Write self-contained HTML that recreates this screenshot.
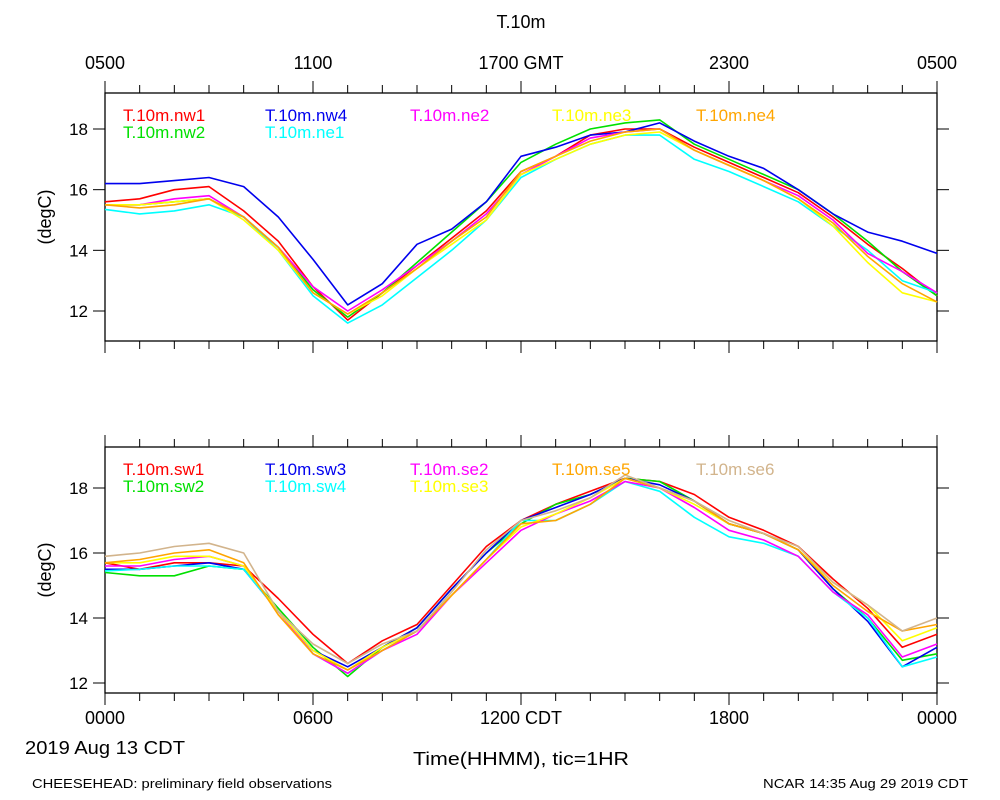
<!DOCTYPE html>
<html><head><meta charset="utf-8"><style>
html,body{margin:0;padding:0;background:#fff;}
svg{display:block;font-family:"Liberation Sans",sans-serif;}
</style></head><body>
<svg id="chart" width="1000" height="800" viewBox="0 0 1000 800" xmlns="http://www.w3.org/2000/svg">
<text x="521" y="28" font-size="18" text-anchor="middle">T.10m</text>
<g id="topAxisLabels" font-size="18" text-anchor="middle"></g>
<g id="p1"></g>
<g id="p2"></g>
<g id="botAxisLabels" font-size="18" text-anchor="middle"></g>
<text x="25" y="754" font-size="18" textLength="160" lengthAdjust="spacingAndGlyphs">2019 Aug 13 CDT</text>
<text x="521" y="765" font-size="18" text-anchor="middle" textLength="216" lengthAdjust="spacingAndGlyphs">Time(HHMM), tic=1HR</text>
<text x="32" y="788" font-size="13" textLength="300" lengthAdjust="spacingAndGlyphs">CHEESEHEAD: preliminary field observations</text>
<text x="968" y="788" font-size="13" text-anchor="end" textLength="205" lengthAdjust="spacingAndGlyphs">NCAR 14:35 Aug 29 2019 CDT</text>
</svg>
<script>
// hourly values, hour 0..24 CDT
const hours = [0,1,2,3,4,5,6,7,8,9,10,11,12,13,14,15,16,17,18,19,20,21,22,23,24];
const yTicks = [12,14,16,18];
const topLabels = ["0500","1100","1700 GMT","2300","0500"];
const botLabels = ["0000","0600","1200 CDT","1800","0000"];
const labelHours = [0,6,12,18,24];

const topNames = ["T.10m.nw1","T.10m.nw2","T.10m.nw4","T.10m.ne1","T.10m.ne2","T.10m.ne3","T.10m.ne4"];
const topColors = ["#ff0000","#00e000","#0000ee","#00ffff","#ff00ff","#ffff00","#ffa500"];
const nw1 = [15.6,15.7,16.0,16.1,15.3,14.3,12.8,11.7,12.6,13.5,14.4,15.3,16.6,17.1,17.8,18.0,18.0,17.4,16.9,16.4,15.9,15.1,14.2,13.4,12.5];
const nw2 = [15.5,15.5,15.6,15.7,15.1,14.1,12.7,11.8,12.6,13.6,14.6,15.6,16.9,17.5,18.0,18.2,18.3,17.5,17.0,16.5,16.0,15.2,14.3,13.3,12.5];
const nw4 = [16.2,16.2,16.3,16.4,16.1,15.1,13.7,12.2,12.9,14.2,14.7,15.6,17.1,17.4,17.8,17.9,18.2,17.6,17.1,16.7,16.0,15.2,14.6,14.3,13.9];
const ne1 = [15.35,15.2,15.3,15.5,15.1,14.0,12.5,11.6,12.2,13.1,14.0,15.0,16.4,17.0,17.5,17.8,17.8,17.0,16.6,16.1,15.6,14.8,14.0,13.0,12.6];
const ne2 = [15.5,15.5,15.7,15.8,15.1,14.1,12.8,12.0,12.7,13.5,14.3,15.2,16.5,17.1,17.7,17.9,18.0,17.3,16.8,16.3,15.8,15.0,13.9,13.3,12.6];
const ne3 = [15.5,15.5,15.6,15.7,15.0,14.0,12.6,11.9,12.5,13.4,14.2,15.0,16.5,17.0,17.5,17.8,17.9,17.3,16.8,16.3,15.7,14.8,13.6,12.6,12.3];
const ne4 = [15.5,15.4,15.5,15.7,15.1,14.1,12.6,11.9,12.6,13.4,14.3,15.1,16.6,17.1,17.6,17.9,18.0,17.3,16.8,16.3,15.7,14.9,13.8,12.9,12.3];
const topSeries = [nw1,nw2,nw4,ne1,ne2,ne3,ne4];

const botNames = ["T.10m.sw1","T.10m.sw2","T.10m.sw3","T.10m.sw4","T.10m.se2","T.10m.se3","T.10m.se5","T.10m.se6"];
const botColors = ["#ff0000","#00e000","#0000ee","#00ffff","#ff00ff","#ffff00","#ffa500","#d2b48c"];
const sw1 = [15.7,15.5,15.7,15.7,15.6,14.6,13.5,12.6,13.3,13.8,15.0,16.2,17.0,17.5,17.9,18.3,18.2,17.8,17.1,16.7,16.2,15.2,14.3,13.1,13.5];
const sw2 = [15.4,15.3,15.3,15.6,15.5,14.3,13.1,12.2,13.1,13.7,14.9,16.0,16.9,17.5,17.8,18.3,18.2,17.6,16.9,16.6,16.1,14.9,14.0,12.7,12.9];
const sw3 = [15.5,15.5,15.6,15.7,15.5,14.2,13.0,12.5,13.1,13.7,14.9,16.0,17.0,17.4,17.8,18.3,18.1,17.6,16.9,16.6,16.1,14.9,13.9,12.5,13.1];
const sw4 = [15.45,15.5,15.6,15.6,15.5,14.2,12.9,12.3,13.0,13.6,14.7,15.8,17.0,17.0,17.5,18.2,17.9,17.1,16.5,16.3,15.9,14.8,14.0,12.5,12.8];
const se2 = [15.6,15.6,15.8,15.9,15.6,14.2,12.9,12.3,13.0,13.5,14.7,15.7,16.7,17.2,17.6,18.2,18.0,17.4,16.7,16.4,15.9,14.8,14.1,12.8,13.2];
const se3 = [15.7,15.7,15.9,15.9,15.6,14.2,13.0,12.4,13.1,13.6,14.7,15.8,16.8,17.2,17.7,18.3,18.0,17.5,16.9,16.6,16.1,15.1,14.4,13.3,13.7];
const se5 = [15.7,15.8,16.0,16.1,15.7,14.1,12.9,12.4,13.0,13.6,14.7,15.8,16.9,17.0,17.5,18.3,18.0,17.6,16.9,16.6,16.1,15.0,14.2,13.6,13.8];
const se6 = [15.9,16.0,16.2,16.3,16.0,14.2,13.2,12.6,13.2,13.6,14.8,16.1,17.0,17.3,17.7,18.4,18.0,17.6,17.0,16.6,16.2,15.1,14.4,13.6,14.0];
const botSeries = [sw1,sw2,sw3,sw4,se2,se3,se5,se6];

const NS="http://www.w3.org/2000/svg";
const X0=105, X1=937;
function xScale(h){return X0+(X1-X0)*h/24;}
function mk(tag,attrs,parent){const e=document.createElementNS(NS,tag);for(const k in attrs)e.setAttribute(k,attrs[k]);parent.appendChild(e);return e;}

// legend slots: [column x, row]
const topLegendSlots=[[123,0],[123,1],[265,0],[265,1],[410,0],[552,0],[696,0]];
const botLegendSlots=[[123,0],[123,1],[265,0],[265,1],[410,0],[410,1],[552,0],[696,0]];

function drawPanel(g,top,bot,y12,y18,series,colors,names,slots,prefix){
  const yScale=v=>y12+(v-12)*(y18-y12)/6;
  const frame=mk('rect',{x:X0,y:top,width:X1-X0,height:bot-top,fill:'none',stroke:'#000','stroke-width':1.3},g);
  
  
  for(let h=0;h<=24;h++){
    const len=(h%6===0)?12:8;
    const x=xScale(h);
    const t1=mk('line',{x1:x,x2:x,y1:top,y2:top-len,stroke:'#000','stroke-width':1},g);
    
    
    const t2=mk('line',{x1:x,x2:x,y1:bot,y2:bot+len,stroke:'#000','stroke-width':1},g);
    
    
  }
  yTicks.forEach(v=>{
    const y=yScale(v);
    const a=mk('line',{x1:X0-12,x2:X0,y1:y,y2:y,stroke:'#000','stroke-width':1},g);
    
    
    const b=mk('line',{x1:X1,x2:X1+12,y1:y,y2:y,stroke:'#000','stroke-width':1},g);
    
    
    const t=mk('text',{x:X0-17,y:y+6,'font-size':17,'text-anchor':'end'},g);
    t.textContent=String(v);
    
    
  });
  const yt=mk('text',{x:0,y:0,'font-size':18,'text-anchor':'middle',transform:`translate(51,${(top+bot)/2}) rotate(-90)`},g);
  yt.textContent='(degC)';
  
  
  series.forEach((s,i)=>{
    const pts=s.map((v,j)=>xScale(hours[j]).toFixed(1)+','+yScale(v).toFixed(1)).join(' ');
    const pl=mk('polyline',{points:pts,fill:'none',stroke:colors[i],'stroke-width':1.6,'stroke-linejoin':'round'},g);
    
    
  });
  names.forEach((n,i)=>{
    const t=mk('text',{x:slots[i][0],y:top+28+slots[i][1]*17,'font-size':17,fill:colors[i]},g);
    t.textContent=n;
    
    
  });
}
drawPanel(document.getElementById('p1'),93,341,311,129,topSeries,topColors,topNames,topLegendSlots,'top');
drawPanel(document.getElementById('p2'),447,693,683,488,botSeries,botColors,botNames,botLegendSlots,'bottom');

const ta=document.getElementById('topAxisLabels');
labelHours.forEach((h,i)=>{
  const t=mk('text',{x:xScale(h),y:69},ta);
  t.textContent=topLabels[i];
  
  
});
const ba=document.getElementById('botAxisLabels');
labelHours.forEach((h,i)=>{
  const t=mk('text',{x:xScale(h),y:724},ba);
  t.textContent=botLabels[i];
  
  
});
</script>
</body></html>
